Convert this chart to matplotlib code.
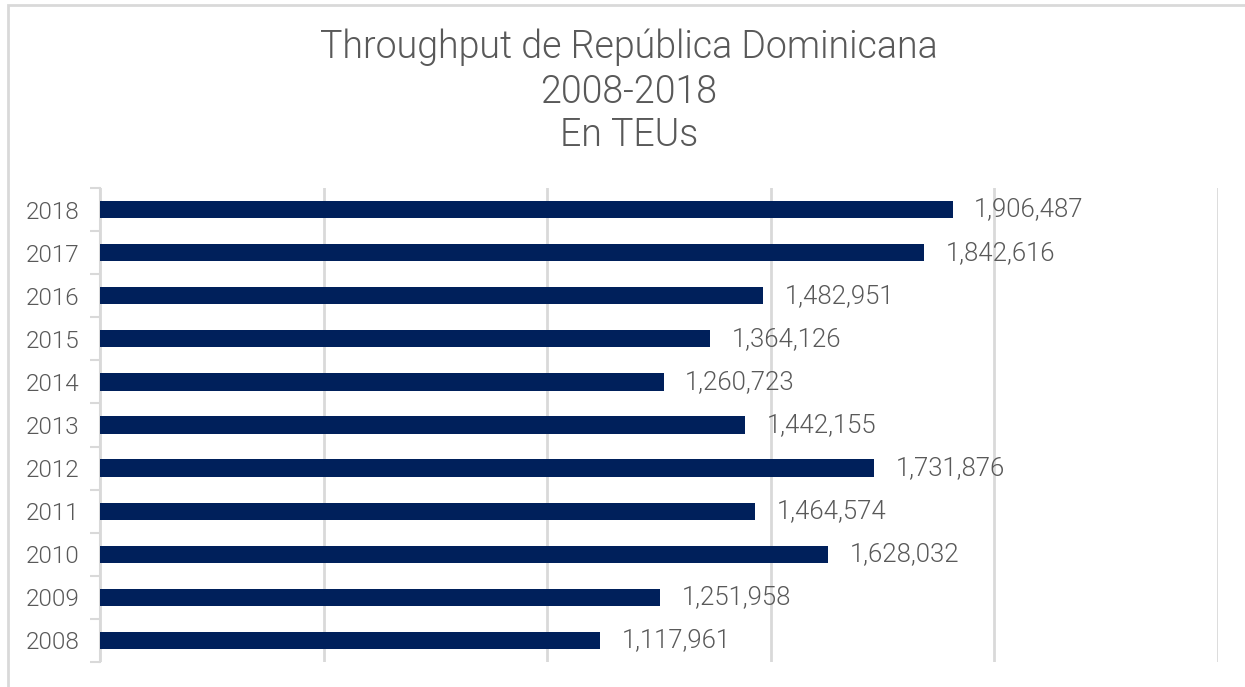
import matplotlib
matplotlib.use('Agg')
import matplotlib.pyplot as plt
from matplotlib.patches import Rectangle
from matplotlib.ticker import FixedLocator, NullFormatter

years = ['2008', '2009', '2010', '2011', '2012', '2013', '2014', '2015', '2016', '2017', '2018']
teus = [1117961, 1251958, 1628032, 1464574, 1731876, 1442155, 1260723, 1364126, 1482951, 1842616, 1906487]
title_lines = ['Throughput de República Dominicana', '2008-2018', 'En TEUs']

W, H = 1245, 687
fig = plt.figure(figsize=(W / 100, H / 100), dpi=100)
plt.rcParams['font.family'] = ['Roboto', 'DejaVu Sans']
plt.rcParams['font.weight'] = 300
text_color = '#595959'

# outer chart border
fig.patches.append(Rectangle((8 / W, -0.1), 1.2, 1 - 5 / H + 0.1, transform=fig.transFigure,
                             fill=False, edgecolor='#d9d9d9', linewidth=2))

ax = fig.add_axes([100 / W, 1 - 662 / H, (1218 - 100) / W, (662 - 188) / H])
ypos = list(range(len(years)))
ax.barh(ypos, teus, height=0.4, color='#00205B', zorder=3)

ax.set_xlim(0, 2500000)
ax.set_ylim(-0.5, len(years) - 0.5)
ax.set_xticks([0, 500000, 1000000, 1500000, 2000000, 2500000])
ax.xaxis.grid(True, color='#d9d9d9', linewidth=2)
ax.tick_params(axis='x', length=0, labelbottom=False)

ax.set_yticks(ypos)
ax.set_yticklabels(years, fontsize=17.5, color=text_color, fontweight=300)
ax.tick_params(axis='y', which='major', length=0, pad=15)
ax.yaxis.set_minor_locator(FixedLocator([i - 0.5 for i in range(len(years) + 1)]))
ax.yaxis.set_minor_formatter(NullFormatter())
ax.tick_params(axis='y', which='minor', length=7, width=1.5, color='#d9d9d9')

for s in ['top', 'right', 'bottom']:
    ax.spines[s].set_visible(False)
ax.spines['left'].set_color('#d9d9d9')
ax.spines['left'].set_linewidth(1.5)

for y, v in zip(ypos, teus):
    ax.text(v + 48000, y, '{:,}'.format(v), va='center', ha='left', fontsize=18.5,
            color=text_color, fontweight=300, zorder=4)

for yc, line in zip([47, 92, 135], title_lines):
    fig.text(629 / W, 1 - yc / H, line, ha='center', va='center', fontsize=27,
             color=text_color, fontweight=300)

fig.savefig('out.png', dpi=100)
